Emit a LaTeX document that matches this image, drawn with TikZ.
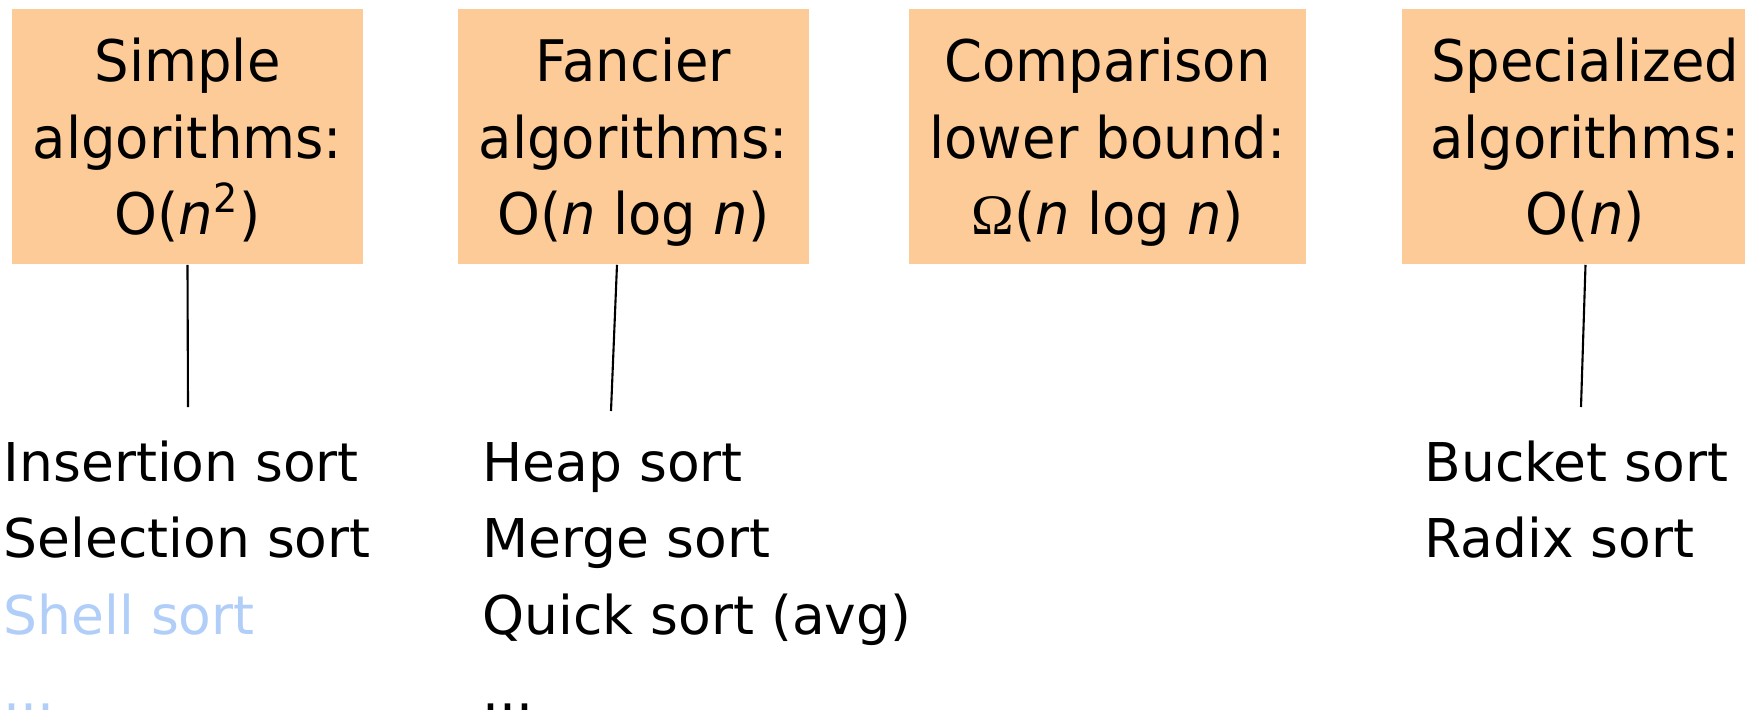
\documentclass[tikz,border=0pt]{standalone}
\usepackage{fontspec}
\setmainfont{DejaVu Sans}
\newfontfamily\boxfont[FakeStretch=0.95]{DejaVu Sans}
\newfontfamily\greekfont{Liberation Serif}
\usepackage{tikz}
\usetikzlibrary{calc, positioning}
\usepackage{xcolor}
\definecolor{boxpeach}{RGB}{253,203,152}
\definecolor{fadeblue}{RGB}{176,206,248}
\newcommand{\etcdots}{...}

\begin{document}
\begin{tikzpicture}[x=0.01cm, y=-0.01cm,
    box/.style={fill=boxpeach, inner sep=0pt, minimum height=2.55cm, align=center, text depth=0pt,
      font=\boxfont\fontsize{16.3pt}{21.8pt}\selectfont},
    item/.style={anchor=base west, inner sep=0pt, font=\fontsize{15.2pt}{18pt}\selectfont},
    link/.style={line width=0.6pt}]
  \useasboundingbox (0,0) rectangle (1745,715);
  \clip (0,0) rectangle (1745,715);
  % the four classes of sorting
  \node[box, minimum width=3.51cm] (simple) at (187.5,136.5) {Simple\\algorithms:\\O(\textit{n}\textsuperscript{2})};
  \node[box, minimum width=3.51cm] (fancy) at (633.5,136.5) {Fancier\\algorithms:\\O(\textit{n} log \textit{n})};
  \node[box, minimum width=3.97cm] (bound) at (1107.5,136.5) {Comparison\\lower bound:\\{\greekfont Ω}(\textit{n} log \textit{n})};
  \node[box, minimum width=3.66cm] (special) at (1585,136.5) {Specialized\\algorithms:\\O(\textit{n})};
  % algorithms under each class
  \foreach \name/\txt/\col [count=\i] in {ins/Insertion sort/black, sel/Selection sort/black,
      shell/Shell sort/fadeblue, dotsa/\etcdots/fadeblue}
    \node[item, text=\col] (\name) at (3,{481+(\i-1)*76.5}) {\txt};
  \foreach \name/\txt [count=\i] in {heap/Heap sort, merge/Merge sort,
      quick/Quick sort (avg), dotsb/\etcdots}
    \node[item] (\name) at (482,{481+(\i-1)*76.5}) {\txt};
  \foreach \name/\txt [count=\i] in {bucket/Bucket sort, radix/Radix sort}
    \node[item] (\name) at (1424,{481+(\i-1)*76.5}) {\txt};
  \coordinate (sa) at (188,407);
  \coordinate (fa) at (611,411);
  \coordinate (pa) at (1581,407);
  \draw[link] (simple.south) -- (sa);
  \draw[link] ([xshift=-0.165cm]fancy.south) -- (fa);
  \draw[link] ([xshift=0.005cm]special.south) -- (pa);
\end{tikzpicture}
\end{document}
